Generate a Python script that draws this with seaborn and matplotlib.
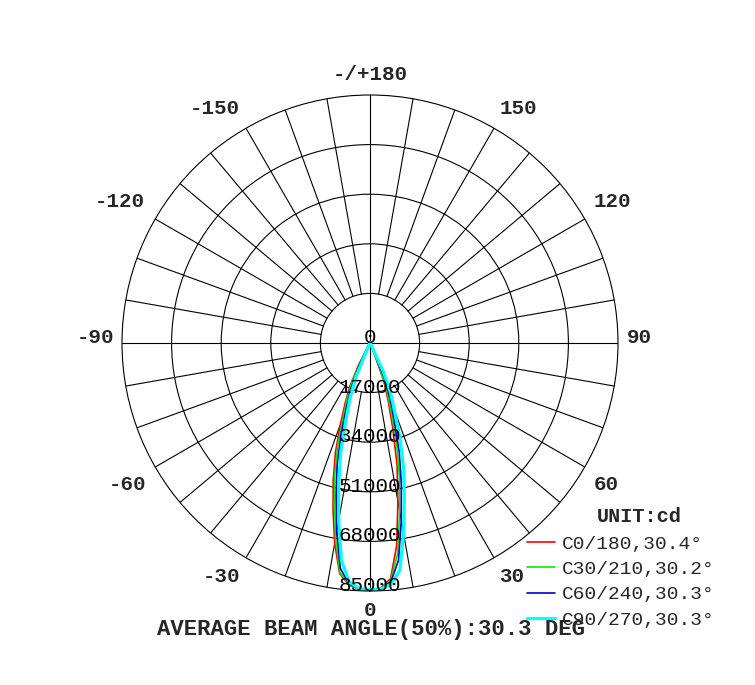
import numpy as np
import pandas as pd
import matplotlib
matplotlib.use('Agg')
import matplotlib.pyplot as plt
import seaborn as sns

# gamma angles (deg) and intensities (cd), each C-plane half
gamma = [0, 2.5, 5, 7.5, 10, 12.5, 15, 17.5, 20, 22.5, 25, 27.5, 30, 35, 40, 50, 60, 75, 90]

c0   = [84600, 84075, 81050, 70000, 55100, 42900, 30150, 20700, 13800, 3000, 600, 300, 220, 144, 100, 55, 30, 10, 10]
c180 = [84600, 84410, 83250, 79690, 69740, 58480, 48700, 39360, 29650, 22140, 16320, 8380, 1320, 360, 216, 120, 74, 38, 17]
c30  = [84600, 84170, 81660, 72660, 58620, 46560, 34770, 23560, 16540, 6800, 900, 390, 264, 162, 120, 65, 39, 12, 10]
c210 = [84600, 84404, 83150, 79250, 67960, 56290, 46560, 36760, 26580, 20290, 13780, 4010, 790, 302, 186, 107, 65, 33, 12]
c60  = [84600, 84250, 82180, 75020, 61760, 49670, 38720, 27250, 19970, 12900, 2000, 474, 348, 192, 139, 78, 47, 19, 10]
c240 = [84600, 84360, 82850, 77900, 65570, 53590, 43560, 33130, 23560, 17370, 9100, 1290, 459, 248, 162, 94, 56, 27, 10]
c90  = [84600, 84380, 83000, 78500, 66300, 54400, 44500, 34300, 24200, 18300, 10700, 1500, 480, 260, 166, 97, 58, 28, 10]
c270 = [84600, 84250, 82180, 75020, 61760, 49670, 38720, 27250, 19970, 12400, 1560, 474, 348, 192, 139, 78, 47, 19, 10]

planes = ['C0/180,30.4°', 'C30/210,30.2°', 'C60/240,30.3°', 'C90/270,30.3°']
right_half = [c0, c30, c60, c90]
left_half = [c180, c210, c240, c270]
colors = ['#ff0000', '#00ee00', '#0000cc', '#00ffff']
widths = [1.2, 1.2, 1.2, 2.3]

ring_values = [0, 17000, 34000, 51000, 68000, 85000]
angle_labels = ['0', '30', '60', '90', '120', '150', '-/+180', '-150', '-120', '-90', '-60', '-30']
# label centres in pixels (x, y from top)
angle_label_pos = [(370, 611), (512, 577), (606, 484), (639, 337), (612, 202), (518, 108),
                   (370, 74), (215, 108), (120, 202), (95, 337), (128, 484), (222, 577)]

rows = []
for p, lh, rh in zip(planes, left_half, right_half):
    g = np.r_[-np.array(gamma[::-1]), np.array(gamma[1:])]
    v = np.r_[np.array(lh[::-1]), np.array(rh[1:])]
    for gi, vi in zip(g, v):
        rows.append((p, np.deg2rad(gi), vi))
df = pd.DataFrame(rows, columns=['plane', 'theta', 'cd'])

sns.set_style('white')
W, H = 755, 685
fig = plt.figure(figsize=(W / 100, H / 100), dpi=100)
ax = fig.add_axes([122 / W, (H - 591) / H, 496 / W, 496 / H], projection='polar')
ax.set_theta_zero_location('S')
ax.set_theta_direction(1)
ax.set_ylim(0, 85000)
ax.set_xticks([])
ax.set_rgrids(ring_values[1:-1], labels=[''] * 4)
ax.yaxis.grid(True, color='black', lw=0.8)
ax.spines['polar'].set_color('black')
ax.spines['polar'].set_linewidth(0.8)

# spokes every 10 deg outside the inner ring, full diameters on the axes
for a in range(0, 360, 10):
    start = 0 if a % 90 == 0 else 17000
    ax.plot([np.deg2rad(a)] * 2, [start, 85000], color='black', lw=0.8, zorder=1)

handles = []
for p, c, lw in zip(planes, colors, widths):
    sub = df[df['plane'] == p]
    sns.lineplot(data=sub, x='theta', y='cd', sort=False, estimator=None,
                 color=c, lw=lw, ax=ax, label=p, zorder=2)
    handles.append(ax.lines[-1])
ax.get_legend().remove()
ax.set_xlabel('')
ax.set_ylabel('')

mono = 'Liberation Mono'
for v in ring_values:
    ax.text(0, v, str(v), ha='center', va='baseline', fontsize=15,
            family=mono, color='black', zorder=5)

for lab, (x, y) in zip(angle_labels, angle_label_pos):
    fig.text(x / W, 1 - y / H, lab, ha='center', va='center', fontsize=15,
             family=mono, fontweight='bold')

fig.text(639 / W, 1 - 516 / H, 'UNIT:cd', ha='center', va='center', fontsize=14.5,
         family=mono, fontweight='bold')
fig.legend(handles, planes, loc='upper left', bbox_to_anchor=(527 / W, 1 - 535 / H),
           frameon=False, prop={'family': mono, 'size': 14}, handlelength=1.45,
           handletextpad=0.35, labelspacing=0.4, borderpad=0, borderaxespad=0)

fig.text(371 / W, 1 - 630 / H, 'AVERAGE BEAM ANGLE(50%):30.3 DEG', ha='center', va='center',
         fontsize=16, family=mono, fontweight='bold')

fig.savefig('out.png', dpi=100, facecolor='white')
